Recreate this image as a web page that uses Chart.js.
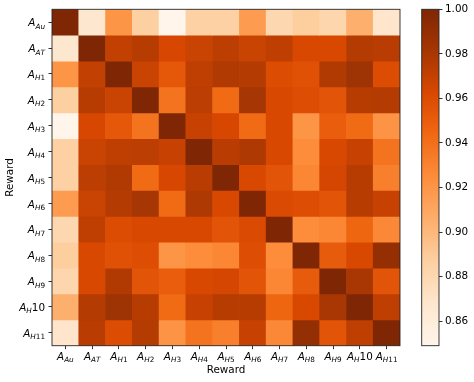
<!DOCTYPE html>
<html><head><meta charset="utf-8">
<script src="https://cdn.jsdelivr.net/npm/chart.js@4.4.0/dist/chart.umd.min.js"></script>
<style>
html,body{margin:0;padding:0;background:#fff;}
#wrap{position:relative;width:474px;height:382px;overflow:hidden;background:#fff;}
#c1box{position:absolute;left:0;top:0;width:410px;height:382px;}
#c2box{position:absolute;left:410px;top:0;width:64px;height:382px;}
</style></head><body>
<div id="wrap"><div id="c1box"><canvas id="heat" width="410" height="382"></canvas></div><div id="c2box"><canvas id="cbar" width="64" height="382"></canvas></div></div>
<script>
// ---- data ----
const rewardLabels = ['A_{Au}','A_{AT}','A_{H1}','A_{H2}','A_{H3}','A_{H4}','A_{H5}','A_{H6}','A_{H7}','A_{H8}','A_{H9}','A_{H}10','A_{H11}'];
const axisTitle = 'Reward';
const corrAu  = [1.000,0.867,0.920,0.887,0.849,0.886,0.886,0.916,0.881,0.888,0.882,0.905,0.869];
const corrAT  = [0.867,1.000,0.971,0.975,0.963,0.968,0.973,0.968,0.972,0.962,0.962,0.976,0.974];
const corrH1  = [0.920,0.971,1.000,0.968,0.953,0.972,0.977,0.976,0.960,0.957,0.977,0.985,0.960];
const corrH2  = [0.887,0.975,0.968,1.000,0.938,0.973,0.943,0.981,0.962,0.959,0.955,0.975,0.976];
const corrH3  = [0.849,0.963,0.953,0.938,1.000,0.969,0.963,0.943,0.962,0.920,0.950,0.943,0.921];
const corrH4  = [0.886,0.968,0.972,0.973,0.969,1.000,0.974,0.978,0.962,0.925,0.962,0.969,0.938];
const corrH5  = [0.886,0.973,0.977,0.943,0.963,0.974,1.000,0.962,0.955,0.928,0.964,0.975,0.932];
const corrH6  = [0.916,0.968,0.976,0.981,0.943,0.978,0.962,1.000,0.961,0.959,0.955,0.975,0.969];
const corrH7  = [0.881,0.972,0.960,0.962,0.962,0.962,0.955,0.961,1.000,0.925,0.928,0.945,0.927];
const corrH8  = [0.888,0.962,0.957,0.959,0.920,0.925,0.928,0.959,0.925,1.000,0.951,0.962,0.990];
const corrH9  = [0.882,0.962,0.977,0.955,0.950,0.962,0.964,0.955,0.928,0.951,1.000,0.980,0.955];
const corrH10 = [0.905,0.976,0.985,0.975,0.943,0.969,0.975,0.975,0.945,0.962,0.980,1.000,0.972];
const corrH11 = [0.869,0.974,0.960,0.976,0.921,0.938,0.932,0.969,0.927,0.990,0.955,0.972,1.000];
const corrMatrix = [corrAu,corrAT,corrH1,corrH2,corrH3,corrH4,corrH5,corrH6,corrH7,corrH8,corrH9,corrH10,corrH11];
const colorbarTicks = [0.86,0.88,0.90,0.92,0.94,0.96,0.98,1.00];

// ---- colormap (matplotlib "Oranges") ----
const orangesStops = ['#fff5eb','#fee6ce','#fdd0a2','#fdae6b','#fd8d3c','#f16913','#d94801','#a63603','#7f2704'];
const vMin = Math.min(...corrMatrix.flat());
const vMax = Math.max(...corrMatrix.flat());
function hexRgb(h){return [parseInt(h.slice(1,3),16),parseInt(h.slice(3,5),16),parseInt(h.slice(5,7),16)];}
function orangeColor(v){
  let t=(v-vMin)/(vMax-vMin); t=Math.max(0,Math.min(1,t));
  const p=t*(orangesStops.length-1); const i=Math.min(Math.floor(p),orangesStops.length-2); const f=p-i;
  const a=hexRgb(orangesStops[i]), b=hexRgb(orangesStops[i+1]);
  return 'rgb('+a.map((c,k)=>Math.round(c+(b[k]-c)*f)).join(',')+')';
}

const FS = 10.4;
const FAM = '"DejaVu Sans", "Liberation Sans", sans-serif';
Chart.defaults.font.family = FAM;
Chart.defaults.font.size = FS;
Chart.defaults.color = '#000';

function layoutMath(ctx, label){
  const m = label.match(/^([^_]*)_\{([^}]*)\}(.*)$/);
  const S = FS*0.7;
  const parts=[{t:m[1], f:'italic '+FS+'px '+FAM, dy:0}];
  for (const ch of m[2]) parts.push({t:ch, f:(/\d/.test(ch)?'':'italic ')+S+'px '+FAM, dy:2.3});
  if (m[3]) parts.push({t:m[3], f:FS+'px '+FAM, dy:0});
  let w=0;
  for (const p of parts){ctx.font=p.f; p.w=ctx.measureText(p.t).width; w+=p.w;}
  return {parts,w};
}
function drawMath(ctx,label,x,y,align){
  const L=layoutMath(ctx,label);
  let cx = align==='right'? x-L.w : x-L.w/2;
  ctx.textBaseline='alphabetic'; ctx.textAlign='left'; ctx.fillStyle='#000';
  for(const p of L.parts){ctx.font=p.f; ctx.fillText(p.t,cx,y+p.dy); cx+=p.w;}
}

const framePlugin = {
  id:'frame',
  afterDraw(chart){
    const {ctx, chartArea:a}=chart;
    ctx.save(); ctx.strokeStyle='#262626'; ctx.lineWidth=0.9;
    ctx.strokeRect(a.left,a.top,a.right-a.left,a.bottom-a.top); ctx.restore();
  }
};
const mathLabelPlugin = {
  id:'mathLabels',
  afterDraw(chart){
    const {ctx, chartArea:a}=chart; const xs=chart.scales.x, ys=chart.scales.y;
    ctx.save();
    rewardLabels.forEach((lab,i)=>{
      drawMath(ctx,lab,xs.getPixelForValue(i),a.bottom+14,'center');
      drawMath(ctx,lab,a.left-7,ys.getPixelForValue(i+0.5)+4.2,'right');
    });
    ctx.restore();
  }
};

const tickGrid = {drawOnChartArea:false, drawTicks:true, tickLength:3.5, tickColor:'#000', tickWidth:0.8, offset:false};

new Chart(document.getElementById('heat'), {
  type:'bar',
  data:{
    labels: rewardLabels,
    datasets: corrMatrix.map((row,i)=>({
      label: rewardLabels[i],
      data: row.map(()=>[i,i+1]),
      backgroundColor: row.map(v=>orangeColor(v)),
      borderWidth:0, barPercentage:1, categoryPercentage:1, grouped:false
    }))
  },
  options:{
    responsive:false, animation:false, devicePixelRatio:1,
    layout:{padding:{left:0,top:9.3,right:10,bottom:0}},
    plugins:{legend:{display:false}, tooltip:{enabled:false}},
    scales:{
      x:{type:'category', offset:true, grid:tickGrid, border:{display:false}, ticks:{display:false},
         title:{display:true, text:axisTitle, color:'#000', font:{size:FS}, padding:{top:0,bottom:5}},
         afterFit:s=>{s.height=36.3;}},
      y:{type:'linear', min:0, max:rewardLabels.length, reverse:true, grid:tickGrid, border:{display:false},
         ticks:{display:false},
         afterBuildTicks:s=>{s.ticks=rewardLabels.map((_,i)=>({value:i+0.5}));},
         title:{display:true, text:axisTitle, color:'#000', font:{size:FS}, padding:{top:4,bottom:4}},
         afterFit:s=>{s.width=52;}}
    }
  },
  plugins:[framePlugin, mathLabelPlugin]
});

new Chart(document.getElementById('cbar'), {
  type:'bar',
  data:{
    labels:['colorbar'],
    datasets:[{
      data:[[vMin,vMax]],
      backgroundColor:(c)=>{
        const ch=c.chart; if(!ch.chartArea) return orangesStops[4];
        const ys=ch.scales.y;
        const g=ch.ctx.createLinearGradient(0,ys.getPixelForValue(vMin),0,ys.getPixelForValue(vMax));
        orangesStops.forEach((s,k)=>g.addColorStop(k/(orangesStops.length-1),s));
        return g;
      },
      borderWidth:0, barPercentage:1, categoryPercentage:1
    }]
  },
  options:{
    responsive:false, animation:false, devicePixelRatio:1,
    layout:{padding:{left:11.7,top:9.3,right:0,bottom:36.3}},
    plugins:{legend:{display:false}, tooltip:{enabled:false}},
    scales:{
      x:{display:false},
      y:{position:'right', min:vMin, max:vMax, grid:{drawOnChartArea:false, drawTicks:true, tickLength:3.5, tickColor:'#000', tickWidth:0.8},
         border:{display:false},
         afterBuildTicks:s=>{s.ticks=colorbarTicks.map(v=>({value:v}));},
         ticks:{padding:2.5, color:'#000', font:{size:FS}, callback:v=>Number(v).toFixed(2)},
         afterFit:s=>{s.width=35;}}
    }
  },
  plugins:[framePlugin]
});
</script>
</body></html>
